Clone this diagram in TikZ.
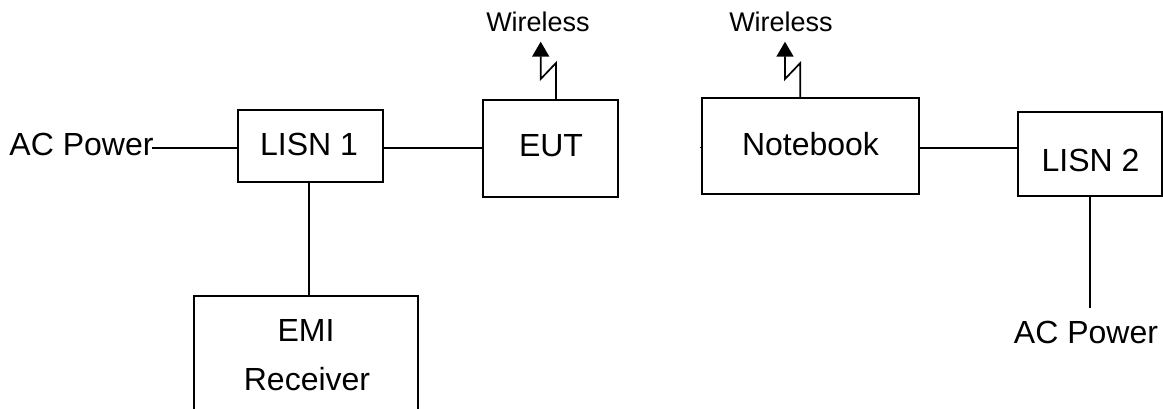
\documentclass[tikz,border=0pt]{standalone}
\usepackage{fontspec}
\setmainfont{Liberation Sans}
\usetikzlibrary{arrows.meta}
\tikzset{
 x=1pt,y=-1pt,
 box/.style={draw=black,line width=1.7pt,inner sep=0pt,outer sep=0pt,anchor=north west},
 wire/.style={draw=black,line width=1.7pt},
 big/.style={font=\fontsize{32}{36}\selectfont,inner sep=0pt,outer sep=0pt,anchor=base},
 small/.style={font=\fontsize{27}{30}\selectfont,inner sep=0pt,outer sep=0pt,anchor=base},
 bolt/.style={wire,-{Triangle[length=15pt,width=17pt]}},
}
\begin{document}
\begin{tikzpicture}
\useasboundingbox (0,0) rectangle (1163,409);
\fill[white] (0,0) rectangle (1163,409);
\node[box,minimum width=145pt,minimum height=72pt] (lisn1) at (237.7,110.3) {};
\node[big] (t1) at (309,156) {LISN 1};
\node[box,minimum width=135pt,minimum height=96.7pt] (eut) at (483.3,100) {};
\node[big] (t2) at (551,157) {EUT};
\node[box,minimum width=216.7pt,minimum height=95.7pt] (note) at (702.3,98.3) {};
\node[big] (t3) at (810.5,156) {Notebook};
\node[box,minimum width=144pt,minimum height=84pt] (lisn2) at (1018.3,112.3) {};
\node[big] (t4) at (1090.5,171.5) {LISN 2};
\coordinate (emiL) at (194.3,409);
\coordinate (emiTL) at (194.3,296);
\coordinate (emiTR) at (418.3,296);
\coordinate (emiR) at (418.3,409);
\draw[wire] (emiL) -- (emiTL) -- (emiTR) -- (emiR);
\node[big] (emi1) at (306,341.7) {EMI};
\node[big] (emi2) at (307,390) {Receiver};
\node[big] (ac1) at (81.5,156) {AC Power};
\node[big] (ac2) at (1086,343) {AC Power};
\node[small] (w1) at (538,32) {Wireless};
\node[small] (w2) at (781,32) {Wireless};
\coordinate (acend) at (151.7,147.7);
\draw[wire] (acend) -- (lisn1.west |- acend);
\coordinate (mid1) at (300,147.7);
\draw[wire] (lisn1.east |- mid1) -- (eut.west |- mid1);
\coordinate (emitop) at (308.7,296);
\draw[wire] (lisn1.south -| emitop) -- (emitop);
\coordinate (mid2) at (960,148);
\draw[wire] (note.east |- mid2) -- (lisn2.west |- mid2);
\coordinate (stub) at (699.5,147.7);
\draw[line width=1pt] (stub) -- (note.west |- stub);
\coordinate (acdown) at (1090.3,308);
\draw[wire] (lisn2.south -| acdown) -- (acdown);
\coordinate (b1) at (556,100);
\draw[bolt] (b1) -- (556,63) -- (540.7,79) -- (540.7,41.7);
\coordinate (b2) at (800.3,98.3);
\draw[bolt] (b2) -- (800.3,63) -- (785,79) -- (785,41.7);
\end{tikzpicture}
\end{document}
